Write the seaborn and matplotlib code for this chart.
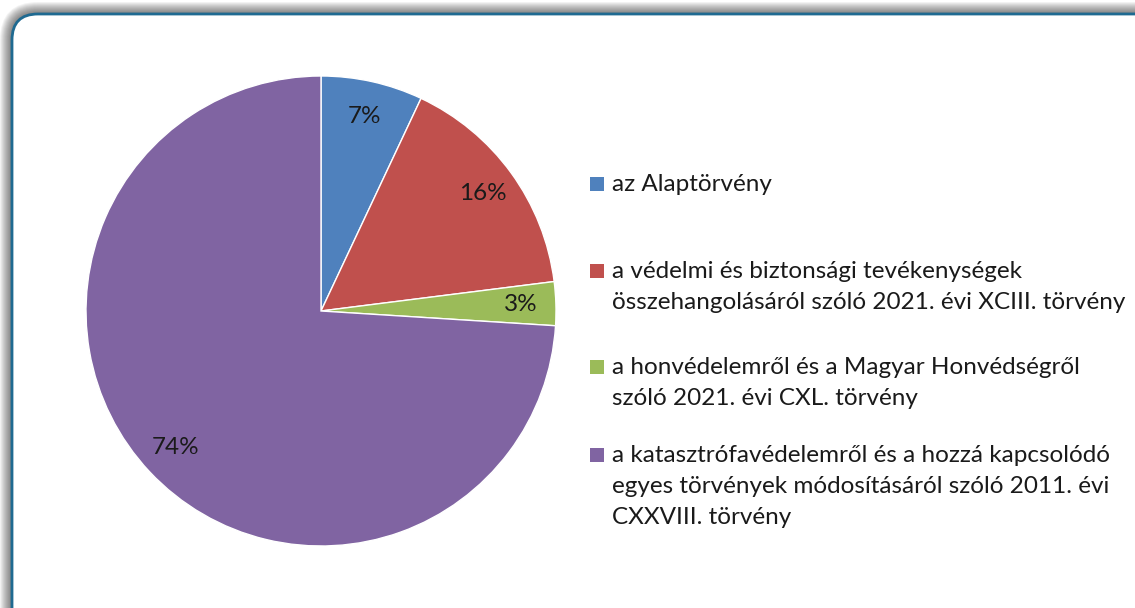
import matplotlib
matplotlib.use('Agg')
import matplotlib.pyplot as plt
from matplotlib.patches import FancyBboxPatch, Rectangle
import seaborn as sns

categories = [
    "az Alaptörvény",
    "a védelmi és biztonsági tevékenységek\nösszehangolásáról szóló 2021. évi XCIII. törvény",
    "a honvédelemről és a Magyar Honvédségről\nszóló 2021. évi CXL. törvény",
    "a katasztrófavédelemről és a hozzá kapcsolódó\negyes törvények módosításáról szóló 2011. évi\nCXXVIII. törvény",
]
shares = [7, 16, 3, 74]
colors = ["#4F81BD", "#C0504D", "#9BBB59", "#8064A2"]

sns.set_theme(style="white")
plt.rcParams['font.family'] = ['Lato', 'DejaVu Sans']

W, H = 1135, 608
FS = 17.5
fig = plt.figure(figsize=(W / 100, H / 100), dpi=100)
fig.patch.set_facecolor("white")

# frame with soft shadow on top/left
top = H - 14
for i in range(12, 0, -1):
    sh = FancyBboxPatch((12 - i, -100), 1300, top + i + 100,
                        boxstyle="round,pad=0,rounding_size=%d" % (26 + i),
                        transform=None, facecolor="black", edgecolor="none",
                        alpha=0.05, zorder=-3)
    fig.patches.append(sh)
frame = FancyBboxPatch((12, -100), 1300, top + 100,
                       boxstyle="round,pad=0,rounding_size=26",
                       transform=None, facecolor="white", edgecolor="#1F6A91",
                       linewidth=2, zorder=-2)
fig.patches.append(frame)

cx, cy, r = 321, 311, 235
ax = fig.add_axes([(cx - r) / W, (H - cy - r) / H, 2 * r / W, 2 * r / H])
ax.set_zorder(2)
ax.patch.set_visible(False)
wedges, texts, autotexts = ax.pie(
    shares, colors=colors, startangle=90, counterclock=False,
    autopct='%.0f%%', pctdistance=0.85,
    wedgeprops=dict(edgecolor="white", linewidth=1),
    textprops=dict(fontsize=FS, color="#1a1a1a"))
ax.set_xlim(-1, 1)
ax.set_ylim(-1, 1)
ax.set_aspect("equal")
ax.axis("off")

# legend, placed like the original
legend_y = [184, 271, 367, 455]
for lab, col, y in zip(categories, colors, legend_y):
    fig.patches.append(Rectangle((590, H - y - 7), 14, 14, transform=None,
                                 facecolor=col, edgecolor="none", zorder=3))
    fig.text(612 / W, (H - y + 10) / H, lab, ha="left", va="top",
             fontsize=FS, color="#1a1a1a", linespacing=1.6, zorder=3)

fig.savefig("out.png", dpi=100, facecolor="white")
